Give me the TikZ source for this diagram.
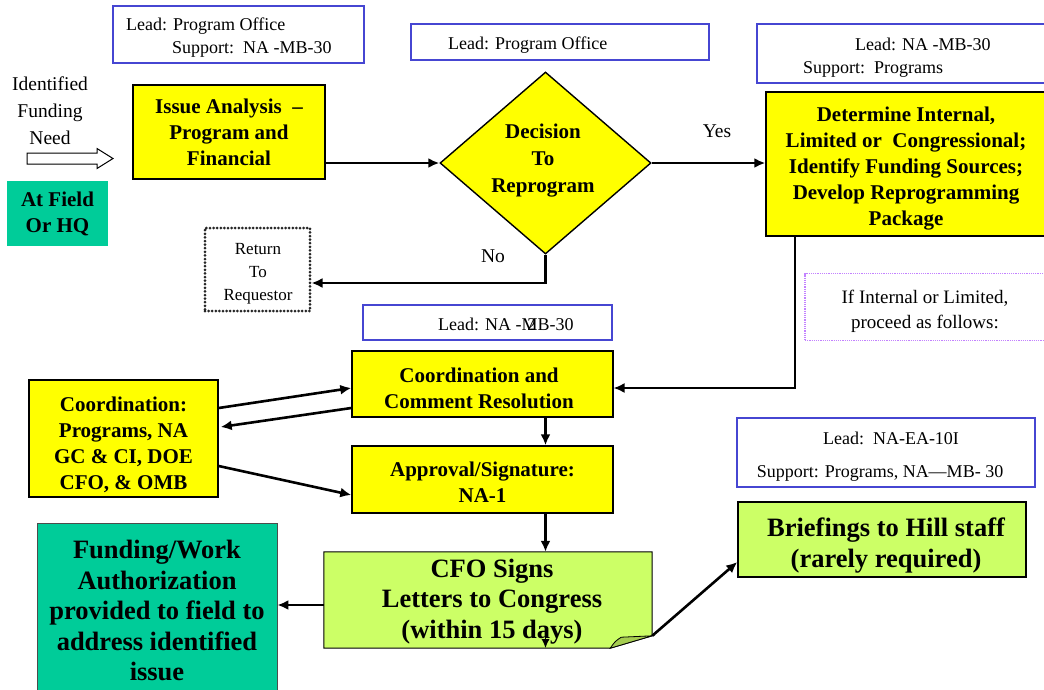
\documentclass[tikz,border=0pt]{standalone}
\usepackage{fontspec}
\setmainfont{Liberation Serif}
\usetikzlibrary{arrows.meta,shapes.geometric,calc}
\definecolor{ylw}{RGB}{255,255,0}
\definecolor{tealc}{RGB}{0,204,153}
\definecolor{lgreen}{RGB}{204,255,102}
\definecolor{foldc}{RGB}{165,205,80}
\definecolor{leadblue}{RGB}{70,70,210}
\definecolor{violetc}{RGB}{195,130,255}
\tikzset{
 fbold/.style={font=\fontsize{21}{26}\selectfont\bfseries},
 fbig/.style={font=\fontsize{26.5}{30.5}\selectfont\bfseries},
 freg/.style={font=\fontsize{18}{23}\selectfont},
 fmid/.style={font=\fontsize{19.5}{27}\selectfont},
 box/.style={draw=black, line width=1.4pt, inner sep=0pt, align=center},
 ybox/.style={box, fill=ylw, fbold},
 tbox/.style={draw=black!70, line width=0.8pt, fill=tealc, inner sep=0pt, align=center},
 gbox/.style={box, fill=lgreen, fbig},
 leadbox/.style={draw=leadblue, line width=1.3pt, inner sep=0pt},
 txt/.style={inner sep=0pt, align=center},
 arr/.style={line width=2.6pt, -{Latex[length=11pt,width=10pt]}},
}
\begin{document}
\begin{tikzpicture}[x=1pt,y=-1pt]
\useasboundingbox (0,0) rectangle (1044,689);

% lead boxes
\node[leadbox, minimum width=251pt, minimum height=57pt] (lead1) at (238.5,34.5) {};
\node[txt, freg, anchor=west, align=left] (lead1t) at (126,38) {Lead: Program Office\\\hspace*{46pt}Support:\ \ NA -MB-30};
\node[leadbox, minimum width=298pt, minimum height=36pt] (lead2) at (560,42) {};
\node[txt, freg, anchor=west] (lead2t) at (448,45) {Lead: Program Office};
\node[leadbox, minimum width=293pt, minimum height=59pt] (lead3) at (903.5,53.5) {};
\node[txt, freg, anchor=west, align=left] (lead3t) at (803,57.5) {\hspace*{52pt}Lead: NA -MB-30\\Support:\ \ Programs};
\node[leadbox, minimum width=249pt, minimum height=35pt] (lead4) at (487.5,322.5) {};
\node[txt, freg, anchor=west] (lead4t) at (438,324) {Lead: NA -M\llap{2\hspace{0.08em}}B-30};
\node[leadbox, minimum width=298pt, minimum height=69pt] (lead5) at (886,452.5) {};
\node[txt, freg] (lead5a) at (891,438.5) {Lead:\ \ NA-EA-10I};
\node[txt, freg] (lead5b) at (880,473) {Support: Programs, NA---MB- 30};

% left input
\node[txt, fmid] (need) at (50,111) {Identified\\Funding\\Need};
\draw[line width=1pt, fill=white] (27,153) -- (97,153) -- (97,148.5) -- (113,158.5) -- (97,168.5) -- (97,164) -- (27,164) -- cycle;
\node[tbox, draw=none, fbold, minimum width=101pt, minimum height=65pt] (field) at (57.5,213.5) {At Field\\Or HQ};

% main flow
\node[ybox, minimum width=192pt, minimum height=94pt] (issue) at (229,132) {Issue Analysis~~--\\Program and\\Financial};
\node[draw=black, line width=1.4pt, fill=ylw, diamond, minimum width=211pt, minimum height=182pt, inner sep=0pt] (dec) at (545.5,163) {};
\node[txt, font=\fontsize{21}{27}\selectfont\bfseries] (dect) at (543,161) {Decision\\To\\Reprogram};
\node[ybox, minimum width=284pt, minimum height=144pt] (det) at (908,164) {};
\node[txt, font=\fontsize{21}{26.2}\selectfont\bfseries] (dett) at (906,168.5) {Determine Internal,\\Limited or~~Congressional;\\Identify Funding Sources;\\Develop Reprogramming\\Package};

\draw[arr] (issue.east |- dec.west) -- (dec.west);
\draw[arr] (dec.east) -- (det.west |- dec.east);
\node[txt, fmid] (yes) at (717,131) {Yes};

% No branch
\node[draw=black!85, line width=3pt, dash pattern=on 0pt off 3.6pt, line cap=round, inner sep=0pt, minimum width=105pt, minimum height=83pt] (ret) at (257.5,269.5) {};
\node[txt, font=\fontsize{17}{23}\selectfont] (rett) at (258,274) {Return\\To\\Requestor};
\coordinate (nob) at (545.5,283);
\draw[arr] (dec.south) -- (nob) -- (ret.east |- nob);
\node[txt, fmid] (no) at (493,256) {No};

% internal/limited
\node[draw=violetc, line width=1.2pt, densely dotted, inner sep=0pt, minimum width=245pt, minimum height=67pt] (iflim) at (927.5,307) {};
\node[txt, font=\fontsize{19}{25}\selectfont] (iflimt) at (925,311.5) {If Internal or Limited,\\proceed as follows:};

\node[ybox, minimum width=261pt, minimum height=66pt] (coord) at (482.5,384) {};
\node[txt, fbold] (coordt) at (479,388) {Coordination and\\Comment Resolution};
\node[ybox, minimum width=189pt, minimum height=117pt] (coordl) at (123.5,438.5) {};
\node[txt, font=\fontsize{21}{26}\selectfont\bfseries] (coordlt) at (123.5,445) {Coordination:\\Programs, NA\\GC \& CI, DOE\\CFO, \& OMB};
\node[ybox, minimum width=261pt, minimum height=67pt] (appr) at (482.5,479.5) {};
\node[txt, fbold] (apprt) at (482.5,482) {Approval/Signature:\\NA-1};

\coordinate (bend1) at (795,388);
\draw[line width=1.5pt, -{Latex[length=11pt,width=10pt]}] (det.south -| bend1) -- (bend1) -- (coord.east |- bend1);
\draw[arr] ([yshift=30.5pt]coordl.east) -- ([yshift=-4pt]coord.west);
\draw[arr] ([yshift=-24pt]coord.west) -- ([yshift=11.5pt, xshift=2pt]coordl.east);
\draw[arr] ([yshift=-27.5pt]coordl.east) -- ([yshift=-15.5pt]appr.west);
\draw[arr] (coord.south -| dec.south) -- (appr.north -| dec.south);

% CFO note
\node[inner sep=0pt, minimum width=328pt, minimum height=96pt] (cfo) at (488,600) {};
\draw[arr] (appr.south -| dec.south) -- (cfo.north -| dec.south);
\coordinate (cfocorner) at ($(cfo.north east)+(0,84)$);
\coordinate (foldbase) at ($(cfo.south east)+(-42,0)$);
\filldraw[fill=lgreen, draw=black, line width=1pt] (cfo.north west) -- (cfo.north east) -- (cfocorner) -- (foldbase) -- (cfo.south west) -- cycle;
\filldraw[fill=foldc, draw=black, line width=0.8pt] (foldbase) .. controls ($(foldbase)+(5,-7)$) .. ($(foldbase)+(11,-11)$) -- (cfocorner) -- cycle;
\node[txt, fbig] (cfot) at (492,601.5) {CFO Signs\\Letters to Congress\\(within 15 days)};
\coordinate (glitch) at (545.5,634);
\draw[line width=1.6pt, -{Latex[length=9pt,width=8pt]}] (glitch) -- (cfo.south -| glitch);

\node[tbox, fbig, minimum width=240pt, minimum height=180pt, anchor=north] (fund) at (157,523) {};
\node[txt, fbig] (fundt) at (157,610.5) {Funding/Work\\Authorization\\provided to field to\\address identified\\issue};
\draw[arr] ([yshift=-5pt]cfo.west) -- ([yshift=-5pt]cfo.west -| fund.east);

\node[gbox, minimum width=288pt, minimum height=75pt] (brief) at (882,539.5) {};
\node[txt, fbig] (brieft) at (886,545.5) {Briefings to Hill staff\\(rarely required)};
\draw[arr] (cfocorner) -- ([yshift=-22.5pt]brief.west);
\end{tikzpicture}
\end{document}
